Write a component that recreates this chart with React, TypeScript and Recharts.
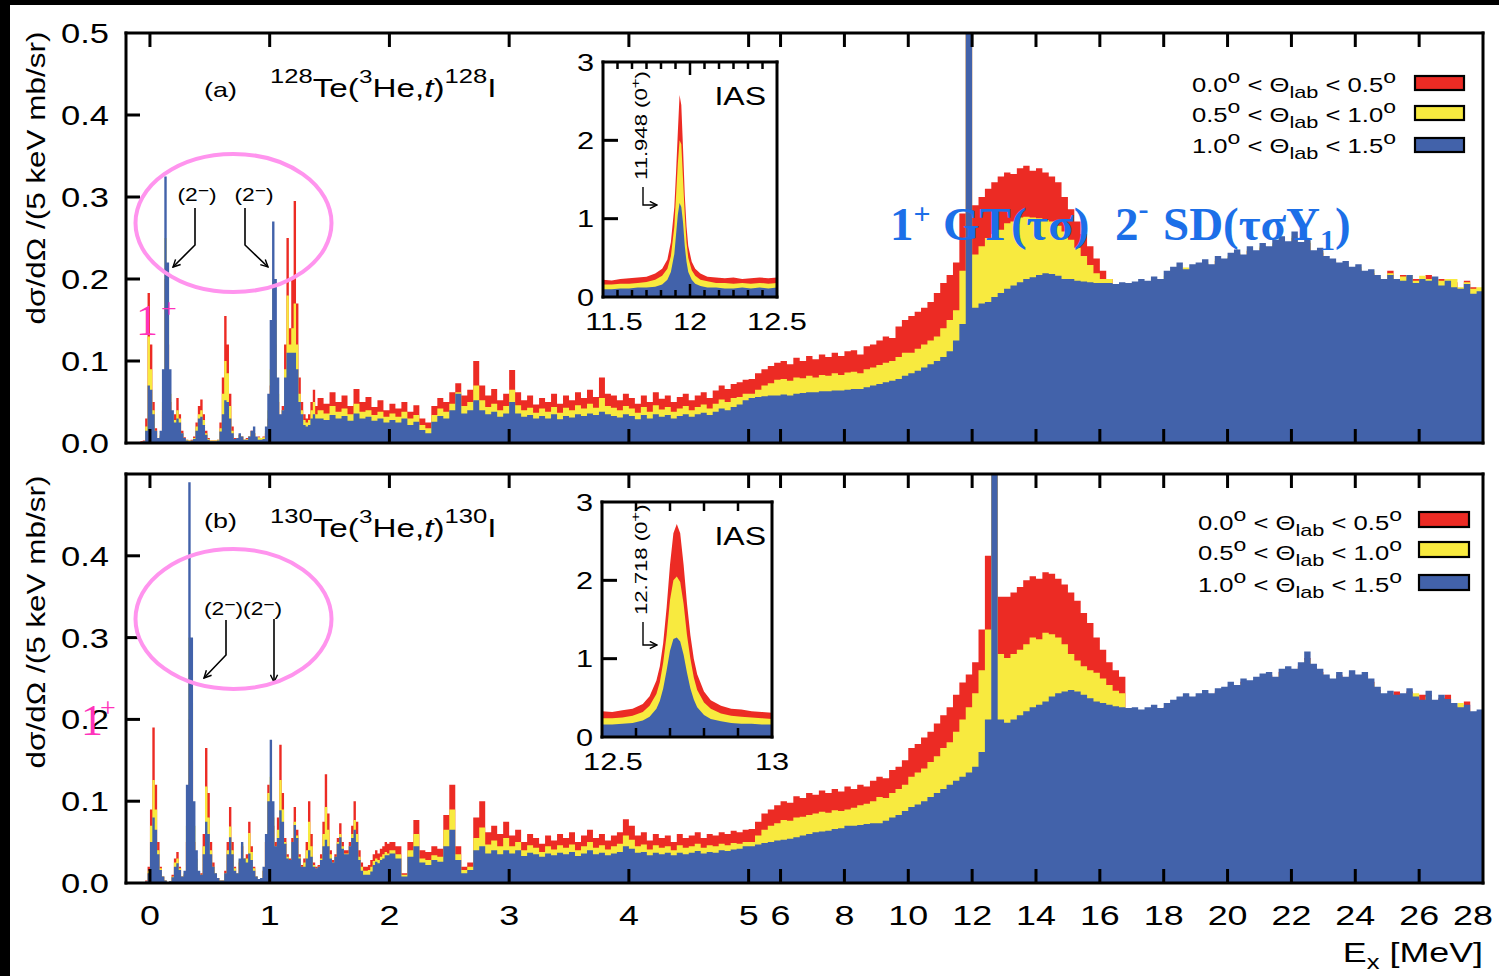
import React from 'react';
import { AreaChart, Area, XAxis, YAxis } from 'recharts';

const RED = '#ec2b24';
const YELLOW = '#f8ea3f';
const BLUE = '#4262aa';
const SANS = '"Liberation Sans", Arial, Helvetica, sans-serif';
const SERIF = '"Liberation Serif", "Times New Roman", Times, serif';
const SX = 1.28;

// ---------------- axes ----------------
const xTickLabels = [0, 1, 2, 3, 4, 5, 6, 8, 10, 12, 14, 16, 18, 20, 22, 24, 26, 28];
const yTickLabelsA = [0, 0.1, 0.2, 0.3, 0.4, 0.5];
const yTickLabelsB = [0, 0.1, 0.2, 0.3, 0.4];
const EX_MIN = -0.2;
const EX_MAX = 28;
const EX_BREAK = 5;
const HIGH_COMPRESSION = 32 / 120;

// ---------------- binning of spectra ----------------
const segStartA = [-0.2, 1.4, 5.0];
const segWidthA = [0.02, 0.05, 0.2];
const segStartB = [-0.2, 2.0, 5.0];
const segWidthB = [0.02, 0.05, 0.2];

// ---------------- (a) 128Te spectra ----------------
const redA1 = [
  0, 0, 0, 0, 0, 0, 0.002, 0.003, 0.03, 0.183,
  0.12, 0.05, 0.018, 0.006, 0.008, 0.04, 0.2, 0.12, 0.05, 0.025,
  0.035, 0.055, 0.035, 0.015, 0.007, 0.004, 0.003, 0.004, 0.008, 0.025,
  0.045, 0.053, 0.035, 0.015, 0.006, 0.003, 0.003, 0.003, 0.004, 0.025,
  0.08, 0.155, 0.12, 0.06, 0.02, 0.006, 0.006, 0.01, 0.008, 0.004,
  0.006, 0.008, 0.015, 0.012, 0.006, 0.008, 0.006, 0.008, 0.012, 0.03,
  0.07, 0.15, 0.12, 0.05, 0.03, 0.045, 0.12, 0.25, 0.14, 0.2,
  0.295, 0.17, 0.08, 0.05, 0.035, 0.03, 0.035, 0.05, 0.065, 0.045,
];
const yellowA1 = [
  0, 0, 0, 0, 0, 0, 0.001, 0.002, 0.02, 0.13,
  0.09, 0.04, 0.015, 0.006, 0.01, 0.05, 0.25, 0.15, 0.06, 0.03,
  0.028, 0.04, 0.03, 0.012, 0.006, 0.004, 0.003, 0.003, 0.006, 0.02,
  0.035, 0.04, 0.028, 0.012, 0.005, 0.003, 0.003, 0.003, 0.004, 0.018,
  0.06, 0.1, 0.085, 0.045, 0.015, 0.005, 0.006, 0.01, 0.008, 0.004,
  0.005, 0.008, 0.014, 0.012, 0.006, 0.007, 0.006, 0.007, 0.015, 0.04,
  0.09, 0.2, 0.15, 0.06, 0.03, 0.04, 0.09, 0.18, 0.12, 0.14,
  0.17, 0.12, 0.06, 0.04, 0.028, 0.025, 0.028, 0.04, 0.05, 0.035,
];
const blueA1 = [
  0, 0, 0, 0, 0, 0, 0.001, 0.002, 0.015, 0.07,
  0.065, 0.035, 0.015, 0.006, 0.015, 0.09, 0.325, 0.22, 0.09, 0.04,
  0.025, 0.03, 0.025, 0.012, 0.006, 0.003, 0.002, 0.003, 0.005, 0.015,
  0.03, 0.032, 0.022, 0.01, 0.004, 0.002, 0.002, 0.002, 0.003, 0.014,
  0.035, 0.052, 0.05, 0.03, 0.012, 0.005, 0.006, 0.012, 0.008, 0.004,
  0.004, 0.008, 0.015, 0.02, 0.008, 0.004, 0.004, 0.005, 0.02, 0.06,
  0.15, 0.27, 0.2, 0.08, 0.035, 0.04, 0.08, 0.11, 0.11, 0.11,
  0.11, 0.09, 0.05, 0.035, 0.022, 0.02, 0.022, 0.03, 0.035, 0.03,
];
const redA2 = [
  0.055, 0.048, 0.062, 0.05, 0.058, 0.045, 0.066, 0.05, 0.056, 0.044,
  0.052, 0.04, 0.048, 0.042, 0.05, 0.038, 0.046, 0.03, 0.025, 0.045,
  0.055, 0.05, 0.062, 0.073, 0.058, 0.065, 0.1, 0.07, 0.058, 0.066,
  0.052, 0.06, 0.089, 0.062, 0.052, 0.058, 0.047, 0.055, 0.05, 0.06,
  0.048, 0.058, 0.052, 0.062, 0.055, 0.065, 0.056, 0.08, 0.06, 0.058,
  0.052, 0.06, 0.055, 0.048, 0.058, 0.05, 0.062, 0.054, 0.058, 0.05,
  0.056, 0.06, 0.052, 0.058, 0.062, 0.055, 0.064, 0.07, 0.066, 0.072,
  0.074, 0.077,
];
const yellowA2 = [
  0.04, 0.036, 0.045, 0.038, 0.042, 0.035, 0.048, 0.038, 0.04, 0.034,
  0.038, 0.032, 0.036, 0.032, 0.038, 0.03, 0.034, 0.022, 0.018, 0.034,
  0.042, 0.038, 0.048, 0.062, 0.045, 0.05, 0.07, 0.052, 0.044, 0.048,
  0.04, 0.045, 0.065, 0.046, 0.04, 0.043, 0.037, 0.042, 0.038, 0.044,
  0.037, 0.043, 0.04, 0.046, 0.042, 0.048, 0.043, 0.055, 0.045, 0.043,
  0.04, 0.045, 0.042, 0.037, 0.044, 0.038, 0.046, 0.041, 0.044, 0.038,
  0.042, 0.045, 0.04, 0.044, 0.047, 0.042, 0.048, 0.053, 0.05, 0.055,
  0.056, 0.06,
];
const blueA2 = [
  0.03, 0.028, 0.034, 0.03, 0.033, 0.027, 0.036, 0.03, 0.032, 0.027,
  0.03, 0.025, 0.028, 0.025, 0.03, 0.022, 0.026, 0.016, 0.012, 0.026,
  0.033, 0.03, 0.04, 0.06, 0.036, 0.04, 0.052, 0.04, 0.035, 0.038,
  0.032, 0.036, 0.05, 0.036, 0.032, 0.034, 0.03, 0.033, 0.03, 0.035,
  0.029, 0.033, 0.031, 0.035, 0.033, 0.036, 0.034, 0.038, 0.035, 0.033,
  0.031, 0.035, 0.033, 0.029, 0.034, 0.03, 0.035, 0.032, 0.034, 0.03,
  0.033, 0.035, 0.032, 0.035, 0.037, 0.034, 0.038, 0.042, 0.04, 0.044,
  0.047, 0.052,
];
const redA3 = [
  0.078, 0.085, 0.09, 0.094, 0.098, 0.1, 0.096, 0.104, 0.1, 0.106,
  0.102, 0.108, 0.105, 0.11, 0.106, 0.112, 0.113, 0.108, 0.118, 0.12,
  0.125, 0.13, 0.128, 0.142, 0.15, 0.155, 0.16, 0.165, 0.172, 0.183,
  0.195, 0.205, 0.22, 0.28, 2.6, 0.29, 0.3, 0.31, 0.318, 0.325,
  0.33, 0.328, 0.335, 0.338, 0.332, 0.335, 0.33, 0.325, 0.318, 0.3,
  0.285, 0.27, 0.255, 0.24, 0.225, 0.21, 0.2, 0.19, 0.19, 0.188,
  0.19, 0.195, 0.19, 0.198, 0.195, 0.2, 0.21, 0.2, 0.212, 0.21,
  0.215, 0.218, 0.212, 0.222, 0.22, 0.226, 0.23, 0.225, 0.234, 0.23,
  0.238, 0.235, 0.242, 0.246, 0.24, 0.25, 0.24, 0.244, 0.23, 0.232,
  0.222, 0.22, 0.215, 0.216, 0.21, 0.212, 0.205, 0.207, 0.2, 0.196,
  0.21, 0.198, 0.205, 0.2, 0.2, 0.196, 0.205, 0.198, 0.2, 0.195,
  0.196, 0.185, 0.198, 0.19, 0.185,
];
const yellowA3 = [
  0.06, 0.065, 0.07, 0.073, 0.077, 0.078, 0.076, 0.08, 0.079, 0.082,
  0.08, 0.083, 0.082, 0.085, 0.083, 0.086, 0.087, 0.085, 0.09, 0.092,
  0.095, 0.098, 0.1, 0.105, 0.11, 0.11, 0.115, 0.12, 0.125, 0.13,
  0.14, 0.15, 0.162, 0.21, 2.0, 0.23, 0.24, 0.25, 0.255, 0.26,
  0.268, 0.27, 0.275, 0.276, 0.275, 0.274, 0.272, 0.27, 0.265, 0.258,
  0.248, 0.238, 0.228, 0.217, 0.207, 0.2, 0.2, 0.19, 0.192, 0.19,
  0.192, 0.196, 0.192, 0.2, 0.196, 0.204, 0.21, 0.2, 0.214, 0.21,
  0.216, 0.22, 0.214, 0.224, 0.22, 0.228, 0.232, 0.226, 0.236, 0.23,
  0.24, 0.236, 0.244, 0.248, 0.242, 0.252, 0.242, 0.246, 0.232, 0.234,
  0.224, 0.222, 0.216, 0.218, 0.212, 0.215, 0.206, 0.21, 0.202, 0.198,
  0.207, 0.2, 0.203, 0.205, 0.198, 0.204, 0.2, 0.2, 0.198, 0.2,
  0.2, 0.19, 0.196, 0.188, 0.19,
];
const blueA3 = [
  0.055, 0.056, 0.057, 0.058, 0.058, 0.059, 0.058, 0.06, 0.061, 0.062,
  0.062, 0.063, 0.063, 0.064, 0.064, 0.065, 0.066, 0.066, 0.068, 0.07,
  0.072, 0.074, 0.076, 0.078, 0.082, 0.085, 0.088, 0.092, 0.096, 0.1,
  0.105, 0.112, 0.125, 0.145, 1.2, 0.165, 0.17, 0.172, 0.178, 0.183,
  0.188, 0.192, 0.196, 0.2, 0.202, 0.205, 0.207, 0.206, 0.204, 0.2,
  0.2, 0.198, 0.197, 0.196, 0.195, 0.195, 0.195, 0.194, 0.196, 0.195,
  0.197, 0.2, 0.198, 0.203, 0.2, 0.21, 0.215, 0.22, 0.212, 0.218,
  0.22, 0.224, 0.218, 0.228, 0.225, 0.232, 0.236, 0.23, 0.24, 0.235,
  0.244, 0.24, 0.248, 0.252, 0.246, 0.258, 0.245, 0.25, 0.235, 0.238,
  0.228, 0.225, 0.22, 0.222, 0.215, 0.218, 0.21, 0.212, 0.205, 0.2,
  0.205, 0.2, 0.198, 0.205, 0.195, 0.2, 0.198, 0.203, 0.192, 0.198,
  0.19, 0.188, 0.194, 0.182, 0.185,
];

// ---------------- (b) 130Te spectra ----------------
const redB1 = [
  0, 0, 0, 0, 0, 0, 0, 0, 0.003, 0.02,
  0.09, 0.19, 0.12, 0.05, 0.02, 0.008, 0.003, 0.001, 0.002, 0.01,
  0.03, 0.038, 0.02, 0.008, 0.01, 0.05, 0.2, 0.15, 0.05, 0.02,
  0.01, 0.012, 0.06, 0.165, 0.11, 0.05, 0.025, 0.012, 0.006, 0.003,
  0.003, 0.015, 0.05, 0.093, 0.05, 0.02, 0.012, 0.025, 0.045, 0.03,
  0.035, 0.075, 0.045, 0.02, 0.008, 0.005, 0.006, 0.015, 0.05, 0.12,
  0.1, 0.07, 0.05, 0.08, 0.169, 0.11, 0.055, 0.035, 0.03, 0.055,
  0.093, 0.065, 0.035, 0.022, 0.03, 0.05, 0.1, 0.06, 0.025, 0.02,
  0.022, 0.035, 0.075, 0.133, 0.085, 0.04, 0.028, 0.035, 0.055, 0.073,
  0.05, 0.04, 0.04, 0.05, 0.07, 0.1, 0.075, 0.04, 0.025, 0.02,
  0.02, 0.022, 0.028, 0.035, 0.04, 0.036, 0.042, 0.045, 0.05, 0.048,
];
const yellowB1 = [
  0, 0, 0, 0, 0, 0, 0, 0, 0.002, 0.015,
  0.07, 0.126, 0.09, 0.04, 0.018, 0.008, 0.003, 0.001, 0.002, 0.008,
  0.025, 0.03, 0.018, 0.008, 0.012, 0.07, 0.3, 0.22, 0.07, 0.03,
  0.012, 0.01, 0.045, 0.118, 0.08, 0.04, 0.02, 0.012, 0.006, 0.003,
  0.003, 0.012, 0.04, 0.069, 0.04, 0.018, 0.012, 0.028, 0.048, 0.03,
  0.03, 0.061, 0.038, 0.018, 0.008, 0.005, 0.006, 0.015, 0.05, 0.11,
  0.13, 0.08, 0.045, 0.065, 0.126, 0.09, 0.05, 0.032, 0.028, 0.05,
  0.075, 0.058, 0.032, 0.02, 0.025, 0.04, 0.075, 0.045, 0.022, 0.018,
  0.02, 0.03, 0.06, 0.093, 0.065, 0.035, 0.025, 0.032, 0.05, 0.06,
  0.045, 0.036, 0.036, 0.045, 0.06, 0.077, 0.06, 0.032, 0.02, 0.015,
  0.015, 0.016, 0.02, 0.027, 0.03, 0.028, 0.032, 0.035, 0.038, 0.036,
];
const blueB1 = [
  0, 0, 0, 0, 0, 0, 0, 0, 0.002, 0.012,
  0.05, 0.08, 0.065, 0.035, 0.016, 0.008, 0.003, 0.001, 0.002, 0.007,
  0.02, 0.024, 0.016, 0.008, 0.015, 0.12, 0.49, 0.3, 0.1, 0.04,
  0.015, 0.01, 0.035, 0.075, 0.06, 0.035, 0.02, 0.012, 0.006, 0.003,
  0.003, 0.012, 0.035, 0.056, 0.035, 0.015, 0.012, 0.03, 0.05, 0.03,
  0.025, 0.036, 0.028, 0.015, 0.008, 0.005, 0.006, 0.02, 0.06, 0.1,
  0.175, 0.1, 0.045, 0.055, 0.089, 0.075, 0.048, 0.03, 0.028, 0.05,
  0.071, 0.055, 0.03, 0.02, 0.02, 0.03, 0.04, 0.032, 0.02, 0.018,
  0.02, 0.028, 0.045, 0.053, 0.045, 0.03, 0.025, 0.032, 0.048, 0.056,
  0.042, 0.035, 0.035, 0.045, 0.055, 0.065, 0.05, 0.028, 0.015, 0.01,
  0.01, 0.01, 0.014, 0.022, 0.026, 0.024, 0.028, 0.03, 0.034, 0.034,
];
const redB2 = [
  0.05, 0.045, 0.012, 0.05, 0.077, 0.04, 0.038, 0.045, 0.042, 0.083,
  0.12, 0.045, 0.02, 0.025, 0.08, 0.1, 0.062, 0.07, 0.06, 0.075,
  0.058, 0.065, 0.05, 0.06, 0.055, 0.048, 0.058, 0.052, 0.06, 0.055,
  0.062, 0.05, 0.058, 0.065, 0.055, 0.06, 0.052, 0.058, 0.062, 0.078,
  0.07, 0.058, 0.062, 0.052, 0.06, 0.055, 0.058, 0.05, 0.06, 0.055,
  0.058, 0.062, 0.055, 0.06, 0.058, 0.062, 0.06, 0.064, 0.062, 0.065,
];
const yellowB2 = [
  0.04, 0.035, 0.01, 0.04, 0.06, 0.03, 0.028, 0.034, 0.032, 0.065,
  0.09, 0.035, 0.016, 0.02, 0.055, 0.068, 0.047, 0.052, 0.045, 0.055,
  0.045, 0.05, 0.04, 0.046, 0.043, 0.038, 0.045, 0.041, 0.046, 0.043,
  0.047, 0.04, 0.045, 0.05, 0.043, 0.046, 0.041, 0.045, 0.048, 0.058,
  0.053, 0.045, 0.047, 0.041, 0.046, 0.043, 0.045, 0.04, 0.046, 0.043,
  0.045, 0.048, 0.043, 0.046, 0.045, 0.048, 0.046, 0.049, 0.048, 0.05,
];
const blueB2 = [
  0.036, 0.03, 0.008, 0.032, 0.045, 0.025, 0.022, 0.028, 0.026, 0.045,
  0.065, 0.028, 0.012, 0.016, 0.04, 0.045, 0.036, 0.04, 0.035, 0.04,
  0.036, 0.04, 0.033, 0.037, 0.035, 0.032, 0.036, 0.034, 0.037, 0.035,
  0.038, 0.033, 0.036, 0.04, 0.035, 0.037, 0.034, 0.036, 0.038, 0.045,
  0.042, 0.037, 0.038, 0.034, 0.037, 0.035, 0.037, 0.034, 0.037, 0.035,
  0.037, 0.039, 0.036, 0.038, 0.037, 0.04, 0.039, 0.041, 0.042, 0.045,
];
const redB3 = [
  0.066, 0.075, 0.085, 0.09, 0.095, 0.1, 0.098, 0.106, 0.104, 0.11,
  0.108, 0.113, 0.11, 0.115, 0.112, 0.118, 0.115, 0.12, 0.118, 0.125,
  0.13, 0.128, 0.138, 0.142, 0.15, 0.165, 0.17, 0.178, 0.185, 0.195,
  0.205, 0.215, 0.23, 0.245, 0.255, 0.27, 0.31, 0.4, 2.72, 0.35,
  0.35, 0.355, 0.362, 0.37, 0.375, 0.372, 0.38, 0.378, 0.372, 0.365,
  0.355, 0.345, 0.33, 0.318, 0.3, 0.285, 0.27, 0.26, 0.252, 0.21,
  0.21, 0.208, 0.21, 0.214, 0.21, 0.215, 0.22, 0.222, 0.228, 0.224,
  0.228, 0.232, 0.228, 0.234, 0.236, 0.24, 0.238, 0.246, 0.244, 0.248,
  0.25, 0.254, 0.248, 0.258, 0.26, 0.258, 0.265, 0.275, 0.262, 0.258,
  0.25, 0.246, 0.254, 0.248, 0.255, 0.25, 0.254, 0.246, 0.236, 0.228,
  0.23, 0.234, 0.228, 0.234, 0.224, 0.23, 0.23, 0.22, 0.226, 0.23,
  0.216, 0.212, 0.222, 0.206, 0.208,
];
const yellowB3 = [
  0.05, 0.058, 0.065, 0.07, 0.073, 0.077, 0.076, 0.08, 0.081, 0.083,
  0.085, 0.087, 0.086, 0.089, 0.088, 0.09, 0.092, 0.095, 0.097, 0.1,
  0.105, 0.104, 0.11, 0.115, 0.12, 0.13, 0.135, 0.14, 0.148, 0.155,
  0.165, 0.172, 0.185, 0.2, 0.215, 0.232, 0.26, 0.31, 2.05, 0.28,
  0.275, 0.28, 0.285, 0.292, 0.3, 0.298, 0.306, 0.304, 0.3, 0.292,
  0.28, 0.272, 0.265, 0.26, 0.257, 0.25, 0.242, 0.235, 0.232, 0.208,
  0.208, 0.206, 0.208, 0.212, 0.208, 0.213, 0.218, 0.22, 0.226, 0.222,
  0.226, 0.23, 0.226, 0.232, 0.234, 0.238, 0.236, 0.244, 0.242, 0.246,
  0.248, 0.252, 0.246, 0.256, 0.258, 0.256, 0.263, 0.273, 0.26, 0.256,
  0.248, 0.244, 0.252, 0.246, 0.253, 0.248, 0.252, 0.244, 0.234, 0.226,
  0.228, 0.224, 0.226, 0.232, 0.232, 0.22, 0.228, 0.218, 0.224, 0.22,
  0.214, 0.22, 0.212, 0.204, 0.206,
];
const blueB3 = [
  0.045, 0.047, 0.049, 0.05, 0.052, 0.053, 0.054, 0.056, 0.058, 0.06,
  0.062, 0.063, 0.064, 0.066, 0.067, 0.07, 0.07, 0.071, 0.072, 0.073,
  0.073, 0.076, 0.08, 0.083, 0.088, 0.093, 0.096, 0.1, 0.105, 0.11,
  0.115, 0.12, 0.125, 0.13, 0.135, 0.142, 0.16, 0.2, 1.27, 0.2,
  0.196, 0.2, 0.205, 0.21, 0.215, 0.218, 0.222, 0.228, 0.232, 0.234,
  0.236, 0.234, 0.23, 0.226, 0.222, 0.22, 0.218, 0.216, 0.215, 0.214,
  0.215, 0.212, 0.215, 0.218, 0.214, 0.22, 0.224, 0.228, 0.232, 0.228,
  0.232, 0.236, 0.232, 0.238, 0.24, 0.246, 0.242, 0.25, 0.248, 0.252,
  0.256, 0.258, 0.252, 0.262, 0.265, 0.262, 0.27, 0.283, 0.268, 0.262,
  0.255, 0.25, 0.258, 0.252, 0.26, 0.255, 0.258, 0.25, 0.24, 0.232,
  0.235, 0.23, 0.232, 0.238, 0.228, 0.224, 0.235, 0.224, 0.23, 0.225,
  0.22, 0.215, 0.218, 0.21, 0.212,
];

// ---------------- IAS insets ----------------
const insetAEx = [11.5, 11.55, 11.6, 11.65, 11.7, 11.75, 11.8, 11.84, 11.87, 11.89, 11.91, 11.92, 11.93, 11.94, 11.95, 11.96, 11.97, 11.98, 11.99, 12.01, 12.03, 12.06, 12.1, 12.15, 12.2, 12.25, 12.3, 12.35, 12.4, 12.45, 12.5];
const insetARed = [0.22, 0.21, 0.23, 0.24, 0.25, 0.26, 0.3, 0.36, 0.48, 0.7, 1.15, 1.6, 2.1, 2.58, 2.45, 1.9, 1.3, 0.9, 0.65, 0.45, 0.36, 0.3, 0.26, 0.25, 0.24, 0.25, 0.23, 0.24, 0.25, 0.24, 0.25];
const insetAYellow = [0.16, 0.16, 0.17, 0.17, 0.18, 0.19, 0.22, 0.27, 0.36, 0.52, 0.9, 1.3, 1.7, 2.0, 1.95, 1.5, 1.05, 0.7, 0.5, 0.34, 0.27, 0.22, 0.2, 0.18, 0.18, 0.17, 0.18, 0.17, 0.18, 0.17, 0.18];
const insetABlue = [0.1, 0.1, 0.11, 0.11, 0.12, 0.12, 0.13, 0.16, 0.22, 0.32, 0.55, 0.8, 1.05, 1.2, 1.15, 0.95, 0.65, 0.45, 0.32, 0.22, 0.17, 0.14, 0.12, 0.12, 0.11, 0.11, 0.12, 0.11, 0.12, 0.11, 0.12];
const insetBEx = [12.5, 12.53, 12.56, 12.59, 12.62, 12.64, 12.66, 12.67, 12.68, 12.69, 12.7, 12.71, 12.72, 12.73, 12.74, 12.75, 12.76, 12.77, 12.78, 12.8, 12.82, 12.85, 12.88, 12.91, 12.94, 12.97, 13.0];
const insetBRed = [0.33, 0.32, 0.34, 0.36, 0.42, 0.52, 0.72, 0.9, 1.2, 1.65, 2.2, 2.6, 2.72, 2.6, 2.2, 1.7, 1.3, 1.0, 0.8, 0.58, 0.47, 0.4, 0.36, 0.35, 0.33, 0.32, 0.31];
const insetBYellow = [0.24, 0.24, 0.25, 0.27, 0.32, 0.4, 0.55, 0.7, 0.95, 1.3, 1.75, 2.0, 2.05, 1.98, 1.7, 1.3, 1.0, 0.76, 0.6, 0.44, 0.36, 0.3, 0.27, 0.26, 0.25, 0.24, 0.23];
const insetBBlue = [0.16, 0.16, 0.17, 0.18, 0.21, 0.26, 0.36, 0.46, 0.62, 0.85, 1.1, 1.25, 1.27, 1.22, 1.05, 0.82, 0.62, 0.48, 0.38, 0.28, 0.23, 0.2, 0.18, 0.17, 0.17, 0.16, 0.16];
const insetAXTicks = [11.5, 11.5833, 11.6667, 11.75, 11.8333, 11.9167, 12, 12.0833, 12.1667, 12.25, 12.3333, 12.4167, 12.5];
const insetAXLabels = [11.5, 12, 12.5];
const insetAMajor = [12];
const insetBXTicks = [12.5, 12.6, 12.7, 12.8, 12.9, 13];
const insetBXLabels = [12.5, 13];
const insetYTicks = [0, 1, 2, 3];

const legendRanges = [[0.0, 0.5], [0.5, 1.0], [1.0, 1.5]];
const legendColors = [RED, YELLOW, BLUE];

// ---------------- helpers ----------------
const toU = (ex: number) => (ex <= EX_BREAK ? ex : EX_BREAK + (ex - EX_BREAK) * HIGH_COMPRESSION);
const U_MIN = toU(EX_MIN);
const U_MAX = toU(EX_MAX);
const xTicksU = xTickLabels.map(toU);

function labelForU(u: number) {
  let best = xTickLabels[0];
  let d = Infinity;
  xTickLabels.forEach((lab) => {
    const dd = Math.abs(toU(lab) - u);
    if (dd < d) { d = dd; best = lab; }
  });
  return best;
}

function buildSpectrum(starts: number[], widths: number[], reds: number[][], yels: number[][], blus: number[][]) {
  const rows: any[] = [];
  starts.forEach((s, si) => {
    reds[si].forEach((rv, i) => {
      const ex = s + widths[si] * i;
      rows.push({ u: toU(ex), r: rv, y: yels[si][i], b: blus[si][i] });
    });
  });
  const ls = starts.length - 1;
  const endEx = starts[ls] + widths[ls] * reds[ls].length;
  rows.push({ ...rows[rows.length - 1], u: toU(endEx) });
  return rows;
}

const dataA = buildSpectrum(segStartA, segWidthA, [redA1, redA2, redA3], [yellowA1, yellowA2, yellowA3], [blueA1, blueA2, blueA3]);
const dataB = buildSpectrum(segStartB, segWidthB, [redB1, redB2, redB3], [yellowB1, yellowB2, yellowB3], [blueB1, blueB2, blueB3]);
const insetAData = insetAEx.map((x, i) => ({ x, r: insetARed[i], y: insetAYellow[i], b: insetABlue[i] }));
const insetBData = insetBEx.map((x, i) => ({ x, r: insetBRed[i], y: insetBYellow[i], b: insetBBlue[i] }));

function SText({ x, y, size, anchor = 'start', sx = SX, rotate = 0, fill = '#000', family = SANS, weight = 'normal', children }: any) {
  const tr = `translate(${x},${y})${rotate ? ` rotate(${rotate})` : ''} scale(${sx},1)`;
  return (
    <text transform={tr} x={0} y={0} fontSize={size} fontFamily={family} fontWeight={weight} textAnchor={anchor} fill={fill} style={{ whiteSpace: 'pre' }}>
      {children}
    </text>
  );
}

const AXIS_LINE = { stroke: '#000', strokeWidth: 3, strokeLinecap: 'square' };

function MainXTick(props: any) {
  const { x, y, payload, side, showLabel } = props;
  const u = payload.value;
  const lab = labelForU(u);
  const dir = side === 'bottom' ? -1 : 1;
  const atEdge = Math.abs(u - U_MAX) < 1e-6 || Math.abs(u - U_MIN) < 1e-6;
  const lx = lab === EX_MAX ? x - 10 : x;
  return (
    <g>
      {!atEdge && <line x1={x} y1={y} x2={x} y2={y + dir * 14} stroke="#000" strokeWidth={3} />}
      {showLabel && <SText x={lx} y={y + 42} size={28} anchor="middle">{String(lab)}</SText>}
    </g>
  );
}

function MainYTick(props: any) {
  const { x, y, payload } = props;
  const v = payload.value;
  const inner = v > 0.001 && v < 0.499;
  return (
    <g>
      {inner && <line x1={x} y1={y} x2={x + 14} y2={y} stroke="#000" strokeWidth={3} />}
      <SText x={x - 17} y={y + 10} size={27} anchor="end">{v.toFixed(1)}</SText>
    </g>
  );
}

function MainPanel({ top, height, data, yTicks, bottomH, showXLabels }: any) {
  return (
    <div style={{ position: 'absolute', left: 0, top }}>
      <AreaChart width={1499} height={height} data={data} margin={{ top: 0, right: 0, bottom: 0, left: 0 }}>
        <Area xAxisId="bottom" yAxisId="left" type="stepAfter" dataKey="r" fill={RED} fillOpacity={1} stroke="none" isAnimationActive={false} />
        <Area xAxisId="bottom" yAxisId="left" type="stepAfter" dataKey="y" fill={YELLOW} fillOpacity={1} stroke="none" isAnimationActive={false} />
        <Area xAxisId="bottom" yAxisId="left" type="stepAfter" dataKey="b" fill={BLUE} fillOpacity={1} stroke="none" isAnimationActive={false} />
        <XAxis xAxisId="bottom" dataKey="u" type="number" domain={[U_MIN, U_MAX]} ticks={xTicksU} interval={0} allowDataOverflow height={bottomH}
          tickSize={0} tickMargin={0} tickLine={false} axisLine={AXIS_LINE}
          tick={(p: any) => <MainXTick {...p} side="bottom" showLabel={showXLabels} />} />
        <XAxis xAxisId="top" orientation="top" dataKey="u" type="number" domain={[U_MIN, U_MAX]} ticks={xTicksU} interval={0} allowDataOverflow height={33}
          tickSize={0} tickMargin={0} tickLine={false} axisLine={AXIS_LINE}
          tick={(p: any) => <MainXTick {...p} side="top" showLabel={false} />} />
        <YAxis yAxisId="left" type="number" domain={[0, 0.5]} ticks={yTicks} interval={0} allowDataOverflow width={126}
          tickSize={0} tickMargin={0} tickLine={false} axisLine={AXIS_LINE} tick={(p: any) => <MainYTick {...p} />} />
        <YAxis yAxisId="right" orientation="right" type="number" domain={[0, 0.5]} width={16} tick={false} tickLine={false} axisLine={AXIS_LINE} />
      </AreaChart>
    </div>
  );
}

function InsetXTick(props: any) {
  const { x, y, payload, side, labels, majors, domain, minorLen, majorLen } = props;
  const v = payload.value;
  const dir = side === 'bottom' ? -1 : 1;
  const atEdge = Math.abs(v - domain[0]) < 1e-6 || Math.abs(v - domain[1]) < 1e-6;
  const isMajor = majors.some((m: number) => Math.abs(m - v) < 1e-6);
  const isLabel = labels.some((m: number) => Math.abs(m - v) < 1e-6);
  const shift = Math.abs(v - domain[0]) < 1e-6 ? 11 : 0;
  return (
    <g>
      {!atEdge && <line x1={x} y1={y} x2={x} y2={y + dir * (isMajor ? majorLen : minorLen)} stroke="#000" strokeWidth={2.5} />}
      {side === 'bottom' && isLabel && <SText x={x + shift} y={y + 33} size={24} anchor="middle">{String(v)}</SText>}
    </g>
  );
}

function InsetYTick(props: any) {
  const { x, y, payload, side } = props;
  const v = payload.value;
  const inner = v > 0 && v < 3;
  const dir = side === 'left' ? 1 : -1;
  return (
    <g>
      {inner && <line x1={x} y1={y} x2={x + dir * 15} y2={y} stroke="#000" strokeWidth={3} />}
      {side === 'left' && <SText x={x - 9} y={y + 8.5} size={24} anchor="end">{String(v)}</SText>}
    </g>
  );
}

function Inset({ left, top, leftW, rightW, data, domain, xTicks, xLabels, majors, minorLen, majorLen }: any) {
  const plotW = 240 - leftW - rightW;
  const extra = 30;
  const width = 240 + extra;
  const height = 300;
  const topH = 22;
  const bottomH = 43;
  return (
    <>
      <div style={{ position: 'absolute', left: left + leftW, top: top + topH, width: plotW, height: height - topH - bottomH, background: '#fff' }} />
      <div style={{ position: 'absolute', left, top }}>
        <AreaChart width={width} height={height} data={data} margin={{ top: 0, right: extra, bottom: 0, left: 0 }}>
          <Area xAxisId="b" yAxisId="l" type="linear" dataKey="r" fill={RED} fillOpacity={1} stroke="none" isAnimationActive={false} />
          <Area xAxisId="b" yAxisId="l" type="linear" dataKey="y" fill={YELLOW} fillOpacity={1} stroke="none" isAnimationActive={false} />
          <Area xAxisId="b" yAxisId="l" type="linear" dataKey="b" fill={BLUE} fillOpacity={1} stroke="none" isAnimationActive={false} />
          <XAxis xAxisId="b" dataKey="x" type="number" domain={domain} ticks={xTicks} interval={0} allowDataOverflow height={bottomH}
            tickSize={0} tickMargin={0} tickLine={false} axisLine={AXIS_LINE}
            tick={(p: any) => <InsetXTick {...p} side="bottom" labels={xLabels} majors={majors} domain={domain} minorLen={minorLen} majorLen={majorLen} />} />
          <XAxis xAxisId="t" orientation="top" dataKey="x" type="number" domain={domain} ticks={xTicks} interval={0} allowDataOverflow height={topH}
            tickSize={0} tickMargin={0} tickLine={false} axisLine={AXIS_LINE}
            tick={(p: any) => <InsetXTick {...p} side="top" labels={xLabels} majors={majors} domain={domain} minorLen={minorLen} majorLen={majorLen} />} />
          <YAxis yAxisId="l" type="number" domain={[0, 3]} ticks={insetYTicks} interval={0} allowDataOverflow width={leftW}
            tickSize={0} tickMargin={0} tickLine={false} axisLine={AXIS_LINE} tick={(p: any) => <InsetYTick {...p} side="left" />} />
          <YAxis yAxisId="r" orientation="right" type="number" domain={[0, 3]} ticks={insetYTicks} interval={0} width={rightW}
            tickSize={0} tickMargin={0} tickLine={false} axisLine={AXIS_LINE} tick={(p: any) => <InsetYTick {...p} side="right" />} />
        </AreaChart>
      </div>
    </>
  );
}

function LegendBlock({ right, baselines, boxX, boxW, boxYs, boxH }: any) {
  return (
    <g>
      {legendRanges.map((rg, i) => (
        <g key={i}>
          <text transform={`translate(${right},${baselines[i]}) scale(${SX},1)`} textAnchor="end" fontFamily={SANS} fontSize={20} fill="#000" style={{ whiteSpace: 'pre' }}>
            {rg[0].toFixed(1)}
            <tspan fontSize={18} dy={-9}>o</tspan>
            <tspan dy={9}>{' < Θ'}</tspan>
            <tspan fontSize={17} dy={6}>lab</tspan>
            <tspan dy={-6}>{' < ' + rg[1].toFixed(1)}</tspan>
            <tspan fontSize={18} dy={-9}>o</tspan>
          </text>
          <rect x={boxX} y={boxYs[i]} width={boxW} height={boxH} fill={legendColors[i]} stroke="#000" strokeWidth={2.2} />
        </g>
      ))}
    </g>
  );
}

function Reaction({ x, y, a }: any) {
  return (
    <text transform={`translate(${x},${y}) scale(${SX},1)`} fontFamily={SANS} fontSize={26} fill="#000">
      <tspan fontSize={20} dy={-14}>{a}</tspan>
      <tspan dy={14}>Te(</tspan>
      <tspan fontSize={19} dy={-14}>3</tspan>
      <tspan dy={14}>He,</tspan>
      <tspan fontStyle="italic">t</tspan>
      <tspan>)</tspan>
      <tspan fontSize={20} dy={-14}>{a}</tspan>
      <tspan dy={14}>I</tspan>
    </text>
  );
}

function Overlay() {
  const pink = '#ff94ee';
  const magenta = '#ff33bb';
  return (
    <svg width={1499} height={976} style={{ position: 'absolute', left: 0, top: 0, pointerEvents: 'none' }}>
      <defs>
        <marker id="arrowOpen" viewBox="0 0 10 10" refX="9" refY="5" markerWidth="9" markerHeight="9" markerUnits="userSpaceOnUse" orient="auto">
          <path d="M1,1 L9,5 L1,9" fill="none" stroke="#000" strokeWidth="1.6" />
        </marker>
      </defs>

      {/* y-axis titles */}
      <SText x={45} y={178} rotate={-90} size={26} sx={1.21} anchor="middle">dσ/dΩ /(5 keV mb/sr)</SText>
      <SText x={45} y={622} rotate={-90} size={26} sx={1.21} anchor="middle">dσ/dΩ /(5 keV mb/sr)</SText>

      {/* panel titles */}
      <SText x={204} y={97} size={21}>(a)</SText>
      <Reaction x={270} y={97} a="128" />
      <SText x={204} y={528} size={21}>(b)</SText>
      <Reaction x={270} y={537} a="130" />

      {/* legends */}
      <LegendBlock right={1396} baselines={[92, 122, 153]} boxX={1415} boxW={49} boxYs={[76, 106, 138]} boxH={14} />
      <LegendBlock right={1402} baselines={[530, 560, 592]} boxX={1419} boxW={50} boxYs={[512, 542, 575]} boxH={15} />

      {/* IAS labels in insets */}
      <SText x={766} y={105} size={25} anchor="end">IAS</SText>
      <SText x={766} y={545} size={25} anchor="end">IAS</SText>
      <text transform={`translate(647,180) rotate(-90) scale(1.3,1)`} fontFamily={SANS} fontSize={17} fill="#000" style={{ whiteSpace: 'pre' }}>
        {'11.948 (0'}<tspan fontSize={13} dy={-7}>+</tspan><tspan dy={7}>)</tspan>
      </text>
      <polyline points="643,187 643,205 657,205" fill="none" stroke="#000" strokeWidth={1.4} markerEnd="url(#arrowOpen)" />
      <text transform={`translate(647,615) rotate(-90) scale(1.3,1)`} fontFamily={SANS} fontSize={17} fill="#000" style={{ whiteSpace: 'pre' }}>
        {'12.718 (0'}<tspan fontSize={13} dy={-7}>+</tspan><tspan dy={7}>)</tspan>
      </text>
      <polyline points="643,622 643,645 657,645" fill="none" stroke="#000" strokeWidth={1.4} markerEnd="url(#arrowOpen)" />

      {/* (2-) annotations, panel a */}
      <text transform={`translate(197,201) scale(1.2,1)`} textAnchor="middle" fontFamily={SANS} fontSize={19}>
        (2<tspan fontSize={16} dy={-5}>−</tspan><tspan dy={5}>)</tspan>
      </text>
      <text transform={`translate(254,201) scale(1.2,1)`} textAnchor="middle" fontFamily={SANS} fontSize={19}>
        (2<tspan fontSize={16} dy={-5}>−</tspan><tspan dy={5}>)</tspan>
      </text>
      <polyline points="195,208 195,245 173,267" fill="none" stroke="#000" strokeWidth={1.6} markerEnd="url(#arrowOpen)" />
      <polyline points="245,208 245,245 268,267" fill="none" stroke="#000" strokeWidth={1.6} markerEnd="url(#arrowOpen)" />

      {/* (2-) annotations, panel b */}
      <text transform={`translate(204,615) scale(1.2,1)`} fontFamily={SANS} fontSize={19}>
        (2<tspan fontSize={16} dy={-5}>−</tspan><tspan dy={5}>)(2</tspan><tspan fontSize={16} dy={-5}>−</tspan><tspan dy={5}>)</tspan>
      </text>
      <polyline points="226,620 226,655 204,678" fill="none" stroke="#000" strokeWidth={1.6} markerEnd="url(#arrowOpen)" />
      <polyline points="274,619 274,682" fill="none" stroke="#000" strokeWidth={1.6} markerEnd="url(#arrowOpen)" />

      {/* pink ellipses */}
      <ellipse cx={233.5} cy={223} rx={98} ry={69} fill="none" stroke={pink} strokeWidth={4} />
      <ellipse cx={233.5} cy={619} rx={98} ry={70} fill="none" stroke={pink} strokeWidth={4} />

      {/* magenta 1+ labels */}
      <text x={136} y={335} fontFamily={SERIF} fontSize={44} fill={magenta}>1</text>
      <text x={161} y={318} fontFamily={SERIF} fontSize={28} fill={magenta}>+</text>
      <text x={81} y={735} fontFamily={SERIF} fontSize={44} fill={magenta}>1</text>
      <text x={100} y={717} fontFamily={SERIF} fontSize={28} fill={magenta}>+</text>

      {/* blue resonance label */}
      <text x={890} y={240} fontFamily={SERIF} fontWeight="bold" fontSize={47} fill="#1c6fe8">
        1<tspan fontSize={30} dy={-16}>+</tspan>
        <tspan x={943} dy={16}>GT(τσ)</tspan>
        <tspan x={1115}>2</tspan>
        <tspan fontSize={30} dy={-21}>-</tspan>
        <tspan x={1163} dy={21}>SD(τσY</tspan>
        <tspan fontSize={30} dy={10}>1</tspan>
        <tspan dy={-10}>)</tspan>
      </text>

      {/* x-axis title */}
      <text transform={`translate(1483,962) scale(${SX},1)`} textAnchor="end" fontFamily={SANS} fontSize={28} fill="#000" style={{ whiteSpace: 'pre' }}>
        E<tspan fontSize={20} dy={7}>x</tspan><tspan dy={-7}>{' [MeV]'}</tspan>
      </text>
    </svg>
  );
}

export default function App() {
  return (
    <div style={{ position: 'absolute', left: 0, top: 0, width: 1499, height: 976, background: '#000', overflow: 'hidden' }}>
      <div style={{ position: 'absolute', left: 10, top: 5, width: 1489, height: 971, background: '#fff' }} />
      <MainPanel top={0} height={460} data={dataA} yTicks={yTickLabelsA} bottomH={17} showXLabels={false} />
      <MainPanel top={441} height={535} data={dataB} yTicks={yTickLabelsB} bottomH={93} showXLabels={true} />
      <Inset left={560} top={40} leftW={43} rightW={23} data={insetAData} domain={[11.5, 12.5]} xTicks={insetAXTicks} xLabels={insetAXLabels} majors={insetAMajor} minorLen={7} majorLen={13} />
      <Inset left={560} top={480} leftW={42} rightW={28} data={insetBData} domain={[12.5, 13]} xTicks={insetBXTicks} xLabels={insetBXLabels} majors={[]} minorLen={9} majorLen={9} />
      <Overlay />
    </div>
  );
}
